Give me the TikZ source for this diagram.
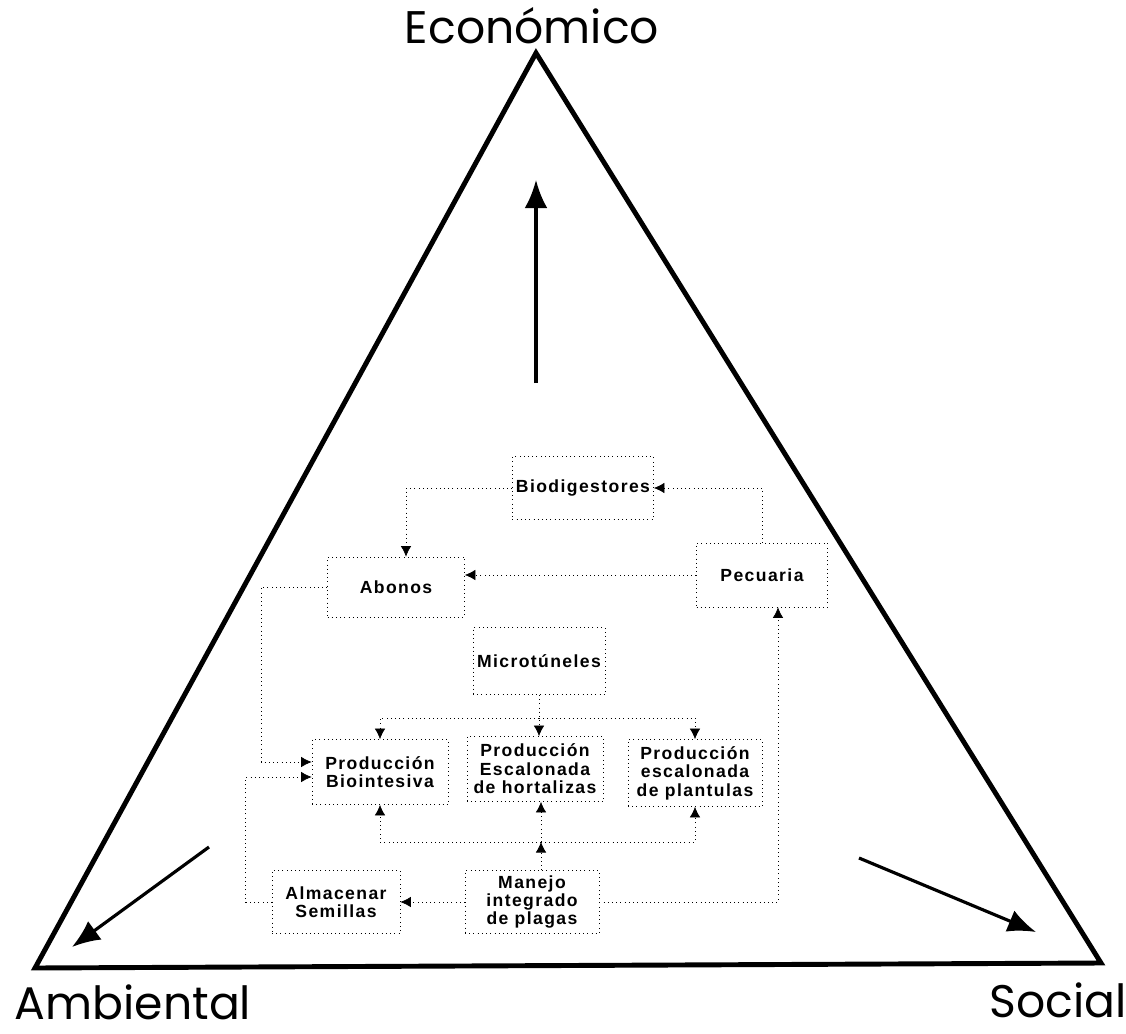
\documentclass[tikz,border=0pt]{standalone}
\usepackage{fontspec}
\newfontfamily\boxfont[LetterSpace=8]{Liberation Sans}
\newfontfamily\cornerfont{Poppins}
\usetikzlibrary{positioning,calc}
\usetikzlibrary{arrows.meta}

\tikzset{
  box/.style={draw, dotted, font=\boxfont\bfseries\fontsize{10}{10.5}\selectfont, align=center, inner sep=2pt},
  link/.style={dotted, -{Latex[length=6pt,width=6pt]}},
  pillar/.style={line width=1.8pt, -{Latex[length=16pt,width=13pt]}},
  corner/.style={font=\cornerfont\fontsize{26}{26}\selectfont}
}

\begin{document}
\begin{tikzpicture}[x=0.02cm, y=-0.02cm]
  \useasboundingbox (0,0) rectangle (1126,1034);

  % triangle
  \coordinate (t_top) at (536,53);
  \coordinate (t_left) at (35,968);
  \coordinate (t_right) at (1101,963);
  \draw[line width=2.8pt, line join=miter] (t_top) -- (t_right) -- (t_left) -- cycle;

  \node[corner] at (532,26)   (n_eco) {Económico};
  \node[corner] at (133,1002) (n_amb) {Ambiental};
  \node[corner] at (1058,1000) (n_soc) {Social};

  % big arrows
  \coordinate (a_up_s) at (536,383);  \coordinate (a_up_e) at (536,180);
  \coordinate (a_le_s) at (209,847);  \coordinate (a_le_e) at (72,947);
  \coordinate (a_ri_s) at (859,858);  \coordinate (a_ri_e) at (1036,932);
  \draw[pillar] (a_up_s) -- (a_up_e);
  \draw[pillar] (a_le_s) -- (a_le_e);
  \draw[pillar] (a_ri_s) -- (a_ri_e);

  % boxes
  \node[box, minimum width=2.74cm, minimum height=1.26cm] at (583,488) (n_bio) {Biodigestores};
  \node[box, minimum width=2.74cm, minimum height=1.2cm]  at (396,587) (n_abo) {Abonos};
  \node[box, minimum width=2.62cm, minimum height=1.28cm] at (762,575) (n_pec) {Pecuaria};
  \node[box, minimum width=2.64cm, minimum height=1.34cm] at (539,661) (n_mic) {Microtúneles};
  \node[box, minimum width=2.72cm, minimum height=1.3cm]  at (380,772) (n_bin) {Producción\\Biointesiva};
  \node[box, minimum width=2.72cm, minimum height=1.3cm]  at (535,769) (n_hor) {Producción\\Escalonada\\de hortalizas};
  \node[box, minimum width=2.68cm, minimum height=1.34cm] at (695,773) (n_pla) {Producción\\escalonada\\de plantulas};
  \node[box, minimum width=2.56cm, minimum height=1.26cm] at (336,902) (n_alm) {Almacenar\\Semillas};
  \node[box, minimum width=2.68cm, minimum height=1.26cm] at (532,902) (n_man) {Manejo\\integrado\\de plagas};

  \coordinate (c_top) at (539,718);
  \coordinate (c_low) at (541,842);

  % connections
  \draw[link] (n_bio.west) -| ($(n_abo.north)+(10,0)$);
  \draw[link] (n_pec.north) |- (n_bio.east);
  \draw[link] (n_pec.west) -- (n_pec.west -| n_abo.east);
  \draw[link] (n_abo.west) -- ++(-66,0) |- ($(n_bin.west)+(0,-10)$);
  \draw[link] (n_alm.west) -- ++(-26,0) |- ($(n_bin.west)+(0,5)$);

  \draw[link] (n_mic.south) -- (n_mic.south |- n_hor.north);
  \draw[link] (c_top) -| (n_bin.north);
  \draw[link] (c_top) -| (n_pla.north);

  \draw[link] (c_low |- n_man.north) -- (c_low);
  \draw[link] (c_low) -- (c_low |- n_hor.south);
  \draw[link] (c_low) -| (n_bin.south);
  \draw[link] (c_low) -| (n_pla.south);

  \draw[link] (n_man.west) -- (n_alm.east);
  \draw[link] (n_man.east) -| ($(n_pec.south)+(16,0)$);
\end{tikzpicture}
\end{document}
